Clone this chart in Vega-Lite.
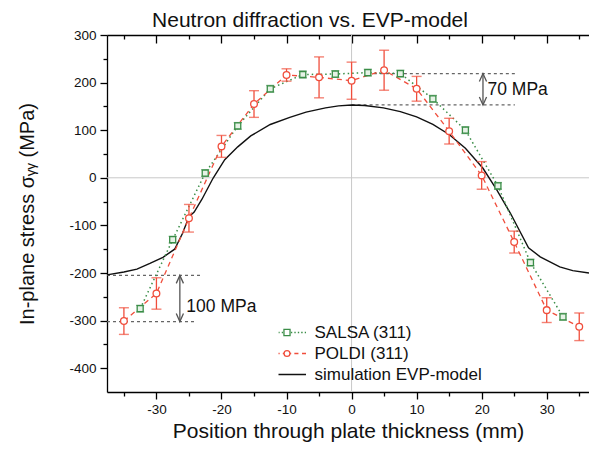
{
  "$schema": "https://vega.github.io/schema/vega-lite/v6.json",
  "width": 482,
  "height": 357,
  "autosize": "none",
  "padding": {"left": 107, "top": 35, "right": 0, "bottom": 62},
  "background": "white",
  "config": {
    "view": {"stroke": null},
    "font": "Liberation Sans",
    "axis": {"labelFont": "Liberation Sans", "titleFont": "Liberation Sans", "domainColor": "black", "tickColor": "black", "labelColor": "#111", "titleColor": "#111", "grid": false, "titleFontWeight": "normal"}
  },
  "title": {"text": "Neutron diffraction vs. EVP-model", "font": "Liberation Sans", "fontSize": 21, "fontWeight": "normal", "color": "#111", "anchor": "middle", "dx": -38, "dy": 10, "offset": 7},
  "datasets": {
    "simulation": [
      {"x": -37.6, "y": -204}, {"x": -35, "y": -198}, {"x": -33, "y": -192}, {"x": -31, "y": -180},
      {"x": -29, "y": -167}, {"x": -27.2, "y": -150}, {"x": -26, "y": -117}, {"x": -25, "y": -82},
      {"x": -24.2, "y": -72}, {"x": -23, "y": -45}, {"x": -21.3, "y": -1}, {"x": -19.5, "y": 38},
      {"x": -17.5, "y": 65}, {"x": -15.5, "y": 88}, {"x": -12.5, "y": 112}, {"x": -9.5, "y": 127},
      {"x": -7, "y": 138}, {"x": -4, "y": 147}, {"x": -2, "y": 151}, {"x": 0, "y": 153},
      {"x": 2, "y": 152}, {"x": 4.9, "y": 147}, {"x": 7.5, "y": 139}, {"x": 10, "y": 128},
      {"x": 12.5, "y": 112}, {"x": 15, "y": 91}, {"x": 17.5, "y": 62}, {"x": 20.2, "y": 20},
      {"x": 22.3, "y": -25}, {"x": 24.4, "y": -74}, {"x": 27.2, "y": -147}, {"x": 29, "y": -166},
      {"x": 32, "y": -187}, {"x": 34, "y": -195}, {"x": 36.5, "y": -200}
    ],
    "salsa": [
      {"x": -32.5, "y": -275, "lo": -282, "hi": -268}, {"x": -27.5, "y": -130, "lo": -137, "hi": -123},
      {"x": -22.5, "y": 10, "lo": 3, "hi": 17}, {"x": -17.5, "y": 109, "lo": 102, "hi": 116},
      {"x": -12.5, "y": 187, "lo": 180, "hi": 194}, {"x": -7.5, "y": 217, "lo": 210, "hi": 224},
      {"x": -2.5, "y": 218, "lo": 211, "hi": 225}, {"x": 2.5, "y": 221, "lo": 214, "hi": 228},
      {"x": 7.5, "y": 219, "lo": 212, "hi": 226}, {"x": 12.5, "y": 166, "lo": 159, "hi": 173},
      {"x": 17.5, "y": 100, "lo": 93, "hi": 107}, {"x": 22.5, "y": -17, "lo": -24, "hi": -10},
      {"x": 27.5, "y": -178, "lo": -185, "hi": -171}, {"x": 32.5, "y": -292, "lo": -299, "hi": -285}
    ],
    "poldi": [
      {"x": -35, "y": -301, "lo": -329, "hi": -273}, {"x": -30, "y": -243, "lo": -276, "hi": -210},
      {"x": -25, "y": -85, "lo": -114, "hi": -56}, {"x": -20, "y": 66, "lo": 43, "hi": 89},
      {"x": -15, "y": 155, "lo": 127, "hi": 183}, {"x": -10, "y": 216, "lo": 203, "hi": 229},
      {"x": -5, "y": 211, "lo": 168, "hi": 254}, {"x": 0, "y": 204, "lo": 165, "hi": 243},
      {"x": 5, "y": 226, "lo": 184, "hi": 268}, {"x": 10, "y": 187, "lo": 161, "hi": 213},
      {"x": 15, "y": 98, "lo": 71, "hi": 125}, {"x": 20, "y": 5, "lo": -24, "hi": 34},
      {"x": 25, "y": -135, "lo": -158, "hi": -112}, {"x": 30, "y": -278, "lo": -304, "hi": -252},
      {"x": 35, "y": -313, "lo": -342, "hi": -284}
    ],
    "reflines": [
      {"x1": -37.6, "x2": -23.3, "y": -205},
      {"x1": -37.6, "x2": -24.1, "y": -302},
      {"x1": 2.5, "x2": 25.1, "y": 219},
      {"x1": 0, "x2": 25.1, "y": 153}
    ],
    "arrows": [
      {"x": -26.4, "y1": -205, "y2": -302},
      {"x": 20.2, "y1": 219, "y2": 153}
    ],
    "heads": [
      {"x": -26.4, "y": -205, "dir": "up"}, {"x": -26.4, "y": -302, "dir": "down"},
      {"x": 20.2, "y": 219, "dir": "up"}, {"x": 20.2, "y": 153, "dir": "down"}
    ],
    "labels": [
      {"x": -25.4, "y": -272, "text": "100 MPa"},
      {"x": 20.9, "y": 184, "text": "70 MPa"}
    ]
  },
  "resolve": {"axis": {"x": "independent", "y": "independent"}},
  "layer": [
    {
      "data": {"values": [{"v": 0}]},
      "mark": {"type": "rule", "color": "#c8c8c8", "strokeWidth": 1},
      "encoding": {
        "x": {"field": "v", "type": "quantitative",
          "scale": {"domain": [-37.6, 36.5], "nice": false, "zero": false},
          "axis": {"orient": "top", "title": null, "values": [-35, -30, -25, -20, -15, -10, -5, 0, 5, 10, 15, 20, 25, 30, 35],
            "labels": false, "domainWidth": 1.3, "tickWidth": 1.3,
            "tickSize": {"condition": {"test": "datum.value % 10 === 0", "value": -8}, "value": -4}}}
      }
    },
    {
      "data": {"values": [{"v": 0}]},
      "mark": {"type": "rule", "color": "#c8c8c8", "strokeWidth": 1},
      "encoding": {
        "y": {"field": "v", "type": "quantitative", "scale": {"domain": [-450, 300], "nice": false, "zero": false}, "axis": null}
      }
    },
    {
      "data": {"name": "reflines"},
      "mark": {"type": "rule", "color": "#666", "strokeWidth": 1.2, "strokeDash": [3, 3]},
      "encoding": {
        "x": {"field": "x1", "type": "quantitative", "axis": null},
        "x2": {"field": "x2"},
        "y": {"field": "y", "type": "quantitative", "axis": null}
      }
    },
    {
      "data": {"name": "arrows"},
      "mark": {"type": "rule", "color": "#555", "strokeWidth": 1.3},
      "encoding": {
        "x": {"field": "x", "type": "quantitative", "axis": null},
        "y": {"field": "y1", "type": "quantitative", "axis": null},
        "y2": {"field": "y2"}
      }
    },
    {
      "data": {"name": "heads"},
      "mark": {"type": "point", "filled": false, "color": "#555", "strokeWidth": 1.3, "size": 256, "opacity": 1},
      "encoding": {
        "x": {"field": "x", "type": "quantitative", "axis": null},
        "y": {"field": "y", "type": "quantitative", "axis": null},
        "shape": {"field": "dir", "type": "nominal", "legend": null,
          "scale": {"domain": ["up", "down"], "range": ["M-0.45,1L0,0L0.45,1", "M-0.45,-1L0,0L0.45,-1"]}}
      }
    },
    {
      "data": {"name": "labels"},
      "mark": {"type": "text", "align": "left", "baseline": "middle", "fontSize": 17.5, "font": "Liberation Sans", "color": "#111"},
      "encoding": {
        "x": {"field": "x", "type": "quantitative", "axis": null},
        "y": {"field": "y", "type": "quantitative", "axis": null},
        "text": {"field": "text"}
      }
    },
    {
      "data": {"name": "simulation"},
      "transform": [{"calculate": "'simulation EVP-model'", "as": "series"}],
      "mark": {"type": "line", "strokeWidth": 1.4},
      "encoding": {
        "x": {"field": "x", "type": "quantitative",
          "axis": {"orient": "bottom", "title": "Position through plate thickness (mm)", "titleFontSize": 21, "titlePadding": 5,
            "values": [-35, -30, -25, -20, -15, -10, -5, 0, 5, 10, 15, 20, 25, 30, 35],
            "labelExpr": "datum.value % 10 === 0 ? '' + datum.value : ''", "labelFontSize": 13.5, "labelPadding": 3, "labelOverlap": false,
            "domainWidth": 1.3, "tickWidth": 1.3,
            "tickSize": {"condition": {"test": "datum.value % 10 === 0", "value": 7}, "value": 4}}},
        "y": {"field": "y", "type": "quantitative",
          "axis": {"orient": "left", "title": "In-plane stress σᵧᵧ (MPa)", "titleFontSize": 20,
            "titleX": -74, "titleAngle": -90, "titleAlign": "center", "titleBaseline": "alphabetic",
            "values": [-400, -350, -300, -250, -200, -150, -100, -50, 0, 50, 100, 150, 200, 250, 300],
            "labelExpr": "datum.value % 100 === 0 ? '' + datum.value : ''", "labelFontSize": 13.5, "labelPadding": 4, "labelOverlap": false,
            "domainWidth": 1.3, "tickWidth": 1.3,
            "tickSize": {"condition": {"test": "datum.value % 100 === 0", "value": 7}, "value": 4}}},
        "color": {"field": "series", "type": "nominal",
          "scale": {"domain": ["SALSA (311)", "POLDI (311)", "simulation EVP-model"], "range": ["#3a8d47", "#f04e3c", "#111111"]},
          "legend": {"title": null, "orient": "none", "legendX": 171.5, "legendY": 287, "padding": 0,
            "symbolSize": 441, "clipHeight": 21, "rowPadding": 0, "labelOffset": 19, "labelLimit": 400,
            "labelFont": "Liberation Sans", "labelFontSize": 17, "labelColor": "#111",
            "encode": {"symbols": {"update": {
              "shape": {"signal": "datum.value === 'SALSA (311)' ? 'M-1.81,0L-1.69,0M-1.49,0L-1.35,0M-1.16,0L-1.03,0M-0.83,0L-0.7,0M-0.5,0L-0.38,0M0.38,0L0.5,0M0.7,0L0.83,0M1.03,0L1.16,0M1.35,0L1.49,0M1.69,0L1.81,0M-0.29,-0.29L0.29,-0.29L0.29,0.29L-0.29,0.29Z' : datum.value === 'POLDI (311)' ? 'M-1.81,0L-1.43,0M-1.09,0L-0.7,0M-0.4,0L-0.28,0M0.28,0L0.4,0M0.7,0L1.09,0M1.43,0L1.81,0M0.28,0A0.28,0.28 0 1,1 -0.28,0A0.28,0.28 0 1,1 0.28,0Z' : 'M-1.81,0L1.81,0'"},
              "size": {"value": 441},
              "fill": {"value": "white"},
              "fillOpacity": {"value": 1},
              "stroke": {"signal": "scale('color', datum.value)"},
              "strokeWidth": {"signal": "datum.value === 'simulation EVP-model' ? 1.4 : 1.3"},
              "strokeDash": {"value": []}
            }}}}
        }
      }
    },
    {
      "data": {"name": "salsa"},
      "mark": {"type": "line", "color": "#3a8d47", "strokeWidth": 1.5, "strokeDash": [1.5, 3]},
      "encoding": {
        "x": {"field": "x", "type": "quantitative", "axis": null},
        "y": {"field": "y", "type": "quantitative", "axis": null}
      }
    },
    {
      "data": {"name": "poldi"},
      "mark": {"type": "line", "color": "#f04e3c", "strokeWidth": 1.3, "strokeDash": [5, 4]},
      "encoding": {
        "x": {"field": "x", "type": "quantitative", "axis": null},
        "y": {"field": "y", "type": "quantitative", "axis": null}
      }
    },
    {
      "data": {"name": "salsa"},
      "mark": {"type": "rule", "color": "#3a8d47", "strokeWidth": 1.2},
      "encoding": {
        "x": {"field": "x", "type": "quantitative", "axis": null},
        "y": {"field": "lo", "type": "quantitative", "axis": null},
        "y2": {"field": "hi"}
      }
    },
    {
      "data": {"name": "salsa"},
      "mark": {"type": "tick", "orient": "horizontal", "color": "#3a8d47", "size": 8, "thickness": 1.3},
      "encoding": {
        "x": {"field": "x", "type": "quantitative", "axis": null},
        "y": {"field": "lo", "type": "quantitative", "axis": null}
      }
    },
    {
      "data": {"name": "salsa"},
      "mark": {"type": "tick", "orient": "horizontal", "color": "#3a8d47", "size": 8, "thickness": 1.3},
      "encoding": {
        "x": {"field": "x", "type": "quantitative", "axis": null},
        "y": {"field": "hi", "type": "quantitative", "axis": null}
      }
    },
    {
      "data": {"name": "poldi"},
      "mark": {"type": "rule", "color": "#f04e3c", "strokeWidth": 1.3},
      "encoding": {
        "x": {"field": "x", "type": "quantitative", "axis": null},
        "y": {"field": "lo", "type": "quantitative", "axis": null},
        "y2": {"field": "hi"}
      }
    },
    {
      "data": {"name": "poldi"},
      "mark": {"type": "tick", "orient": "horizontal", "color": "#f04e3c", "size": 10, "thickness": 1.4},
      "encoding": {
        "x": {"field": "x", "type": "quantitative", "axis": null},
        "y": {"field": "lo", "type": "quantitative", "axis": null}
      }
    },
    {
      "data": {"name": "poldi"},
      "mark": {"type": "tick", "orient": "horizontal", "color": "#f04e3c", "size": 10, "thickness": 1.4},
      "encoding": {
        "x": {"field": "x", "type": "quantitative", "axis": null},
        "y": {"field": "hi", "type": "quantitative", "axis": null}
      }
    },
    {
      "data": {"name": "salsa"},
      "mark": {"type": "point", "shape": "square", "filled": true, "fill": "#e6f2e6", "stroke": "#3a8d47", "strokeWidth": 1.3, "size": 36, "opacity": 1},
      "encoding": {
        "x": {"field": "x", "type": "quantitative", "axis": null},
        "y": {"field": "y", "type": "quantitative", "axis": null}
      }
    },
    {
      "data": {"name": "poldi"},
      "mark": {"type": "point", "shape": "circle", "filled": true, "fill": "white", "stroke": "#f04e3c", "strokeWidth": 1.3, "size": 45, "opacity": 1},
      "encoding": {
        "x": {"field": "x", "type": "quantitative", "axis": null},
        "y": {"field": "y", "type": "quantitative", "axis": null}
      }
    }
  ]
}
